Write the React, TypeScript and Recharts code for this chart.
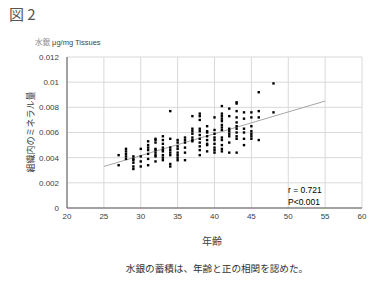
import React from 'react';
import {
  ScatterChart, Scatter, XAxis, YAxis, CartesianGrid, ReferenceLine,
} from 'recharts';

const ages = [27, 28, 29, 30, 31, 32, 33, 34, 35, 36, 37, 38, 39, 40, 41, 42, 43, 44, 45, 46, 48];
const mercury = [
  [0.0042, 0.0034],
  [0.0047, 0.0045, 0.0043, 0.0041, 0.0039],
  [0.0041, 0.0039, 0.0038, 0.0036, 0.0033, 0.0031],
  [0.0047, 0.0041, 0.0037, 0.0033],
  [0.0053, 0.0050, 0.0048, 0.0046, 0.0043, 0.0039, 0.0034],
  [0.0055, 0.0054, 0.0052, 0.0047, 0.0046, 0.0044, 0.0042, 0.0041, 0.0037],
  [0.0057, 0.0054, 0.0051, 0.0048, 0.0046, 0.0045, 0.0042, 0.0040, 0.0038],
  [0.0077, 0.0055, 0.0048, 0.0046, 0.0044, 0.0042, 0.0035, 0.0033],
  [0.0054, 0.0052, 0.0049, 0.0047, 0.0044, 0.0042, 0.0040, 0.0038],
  [0.0056, 0.0054, 0.0052, 0.0048, 0.0044, 0.0038],
  [0.0073, 0.0063, 0.0061, 0.0059, 0.0056, 0.0054, 0.0053],
  [0.0075, 0.0073, 0.0070, 0.0063, 0.0061, 0.0058, 0.0055, 0.0052, 0.0049, 0.0046, 0.0042],
  [0.0065, 0.0061, 0.0060, 0.0057, 0.0054, 0.0051, 0.0050, 0.0045],
  [0.0072, 0.0062, 0.0059, 0.0056, 0.0054, 0.0051, 0.0048, 0.0046, 0.0044],
  [0.0081, 0.0075, 0.0073, 0.0071, 0.0069, 0.0066, 0.0064, 0.0062, 0.0056, 0.0054, 0.0050, 0.0047, 0.0045],
  [0.0079, 0.0073, 0.0063, 0.0061, 0.0059, 0.0057, 0.0052, 0.0044],
  [0.0084, 0.0083, 0.0077, 0.0072, 0.0068, 0.0065, 0.0063, 0.0060, 0.0057, 0.0055, 0.0044],
  [0.0076, 0.0071, 0.0063, 0.0060, 0.0055, 0.0050],
  [0.0076, 0.0072, 0.0065, 0.0061, 0.0059, 0.0057, 0.0055],
  [0.0092, 0.0077, 0.0072, 0.0054],
  [0.0099, 0.0076],
];

const xTicks = [20, 25, 30, 35, 40, 45, 50, 55, 60];
const yTicks = [0, 0.002, 0.004, 0.006, 0.008, 0.01, 0.012];

// regression line end points
const trend = [
  { x: 25, y: 0.0033 },
  { x: 55, y: 0.0085 },
];

const points = ages.flatMap((age, i) => mercury[i].map(v => ({ age, value: v })));

const FONT = '"Liberation Sans", "Noto Sans CJK JP", sans-serif';
const JP = '"Noto Sans CJK JP", sans-serif';

const Dot = (props: any) => (
  <rect x={props.cx - 1.2} y={props.cy - 1.2} width={2.4} height={2.4} fill="#000" />
);

export default function App() {
  return (
    <div style={{ position: 'relative', width: 384, height: 281, background: '#fff', overflow: 'hidden' }}>
      <style>{'body{margin:0}'}</style>

      <div style={{ position: 'absolute', left: 9, top: 3, fontSize: 15, color: '#555', fontFamily: JP }}>
        図 2
      </div>
      <div style={{ position: 'absolute', left: 35, top: 36, fontSize: 7.5, color: '#444', fontFamily: FONT, whiteSpace: 'nowrap' }}>
        <span style={{ color: '#888', fontFamily: JP }}>水銀</span> μg/mg Tissues
      </div>

      <ScatterChart width={384} height={281} margin={{ top: 57, right: 22, bottom: 43, left: 0 }}>
        <CartesianGrid stroke="#d9d9d9" />
        <XAxis
          type="number" dataKey="age" domain={[20, 60]} ticks={xTicks}
          tickLine={false} tickSize={4} tickMargin={1}
          stroke="#595959" tick={{ fontSize: 8, fill: '#404040', fontFamily: FONT }}
        />
        <YAxis
          type="number" dataKey="value" domain={[0, 0.012]} ticks={yTicks} width={67}
          tickLine={false} tickSize={4} tickMargin={4}
          stroke="#595959" tick={{ fontSize: 8, fill: '#404040', fontFamily: FONT }}
        />
        <ReferenceLine segment={trend} stroke="#a6a6a6" strokeWidth={1} />
        <Scatter data={points} shape={<Dot />} isAnimationActive={false} />
      </ScatterChart>

      <div style={{
        position: 'absolute', left: 30, top: 132, transform: 'translate(-50%, -50%) rotate(-90deg)',
        fontSize: 9, color: '#404040', fontFamily: JP, whiteSpace: 'nowrap',
      }}>
        組織内のミネラル量
      </div>

      <div style={{ position: 'absolute', left: 288, top: 184, fontSize: 8.5, lineHeight: '12px', color: '#000', fontFamily: FONT }}>
        <div>r = 0.721</div>
        <div>P&lt;0.001</div>
      </div>

      <div style={{
        position: 'absolute', left: 212, top: 240, transform: 'translate(-50%, -50%)',
        fontSize: 10, color: '#404040', fontFamily: JP, whiteSpace: 'nowrap',
      }}>
        年齢
      </div>
      <div style={{
        position: 'absolute', left: 217, top: 268, transform: 'translate(-50%, -50%)',
        fontSize: 9.6, color: '#333', fontFamily: JP, whiteSpace: 'nowrap',
      }}>
        水銀の蓄積は、年齢と正の相関を認めた。
      </div>
    </div>
  );
}
